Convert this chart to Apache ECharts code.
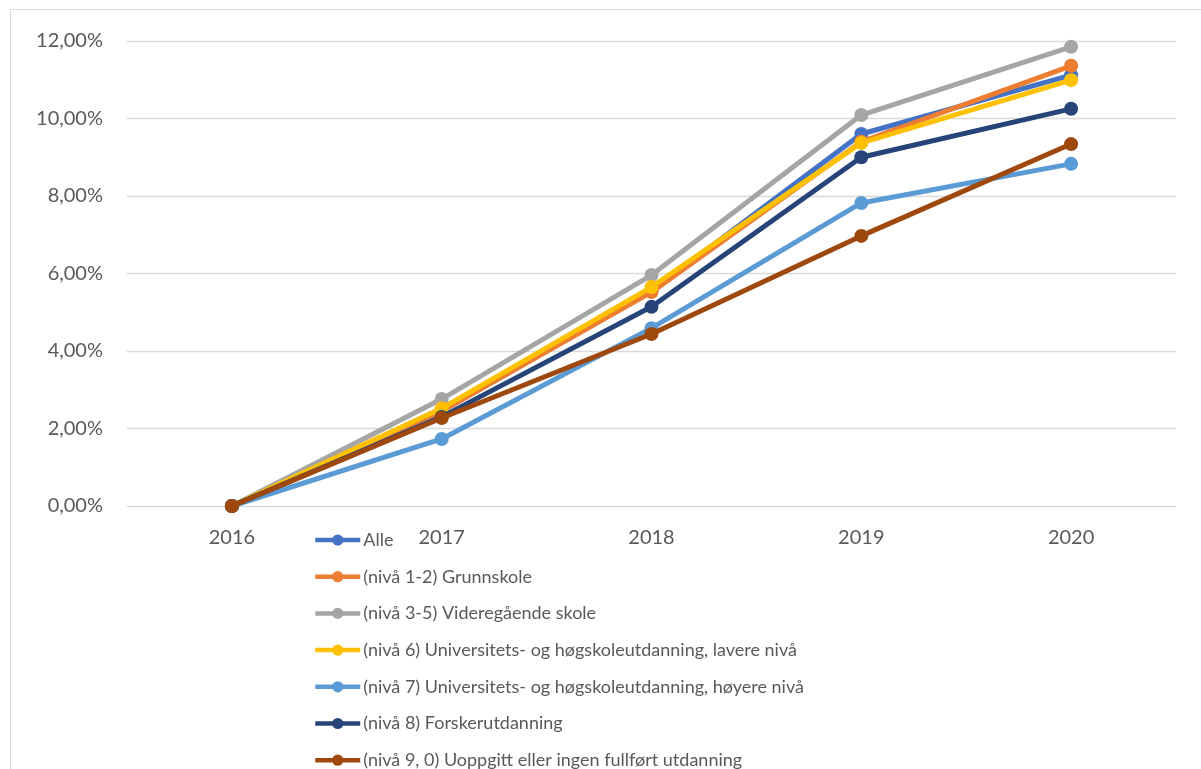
<!DOCTYPE html>
<html>
<head>
<meta charset="utf-8">
<script src="https://cdn.jsdelivr.net/npm/echarts@6/dist/echarts.min.js"></script>
<style>
html,body{margin:0;padding:0;background:#fff;}
#chart{width:1201px;height:769px;}
</style>
</head>
<body>
<div id="chart"></div>
<script>
const categories = ['2016', '2017', '2018', '2019', '2020'];
const seriesNames = [
  'Alle',
  '(nivå 1-2) Grunnskole',
  '(nivå 3-5) Videregående skole',
  '(nivå 6) Universitets- og høgskoleutdanning, lavere nivå',
  '(nivå 7) Universitets- og høgskoleutdanning, høyere nivå',
  '(nivå 8) Forskerutdanning',
  '(nivå 9, 0) Uoppgitt eller ingen fullført utdanning'
];
const alle      = [0, 2.45, 5.55, 9.60, 11.12];
const niva12    = [0, 2.45, 5.52, 9.40, 11.36];
const niva35    = [0, 2.76, 5.96, 10.09, 11.85];
const niva6     = [0, 2.52, 5.65, 9.37, 10.99];
const niva7     = [0, 1.73, 4.59, 7.82, 8.83];
const niva8     = [0, 2.30, 5.14, 9.00, 10.25];
const niva90    = [0, 2.27, 4.44, 6.97, 9.34];
const yTicks = [0, 2, 4, 6, 8, 10, 12];

const colors = ['#4472C4', '#ED7D31', '#A5A5A5', '#FFC000', '#5B9BD5', '#264478', '#9E480E'];
const dataSets = [alle, niva12, niva35, niva6, niva7, niva8, niva90];
const font = 'Lato, "Open Sans", sans-serif';

const chart = echarts.init(document.getElementById('chart'));
chart.setOption({
  animation: false,
  color: colors,
  graphic: [{
    type: 'rect',
    shape: {x: 10.5, y: 9.5, width: 1300, height: 900},
    style: {fill: 'none', stroke: '#D9D9D9', lineWidth: 1},
    silent: true
  }],
  grid: {left: 127, right: 25, top: 41, bottom: 263},
  legend: {
    orient: 'vertical',
    left: 313,
    top: 531,
    height: 400,
    padding: 0,
    itemWidth: 45,
    itemHeight: 14,
    itemGap: 18.7,
    lineStyle: {width: 4.5},
    textStyle: {fontFamily: font, fontSize: 18, color: '#595959', padding: [0, 0, 0, -2]},
    data: seriesNames
  },
  xAxis: {
    type: 'category',
    data: categories,
    boundaryGap: true,
    axisLine: {show: false},
    axisTick: {show: false},
    axisLabel: {fontFamily: font, fontSize: 20, color: '#595959', margin: 22},
    splitLine: {show: false}
  },
  yAxis: {
    type: 'value',
    min: yTicks[0],
    max: yTicks[yTicks.length - 1],
    interval: 2,
    axisLine: {show: false},
    axisTick: {show: false},
    axisLabel: {
      fontFamily: font, fontSize: 20, color: '#595959', margin: 24,
      formatter: v => v.toFixed(2).replace('.', ',') + '%'
    },
    splitLine: {lineStyle: {color: '#D9D9D9', width: 1.3}}
  },
  series: dataSets.map((d, i) => ({
    name: seriesNames[i],
    type: 'line',
    data: d,
    symbol: 'circle',
    symbolSize: 14,
    lineStyle: {width: 5, color: colors[i]},
    itemStyle: {color: colors[i]},
    z: 2 + i
  }))
});
</script>
</body>
</html>
